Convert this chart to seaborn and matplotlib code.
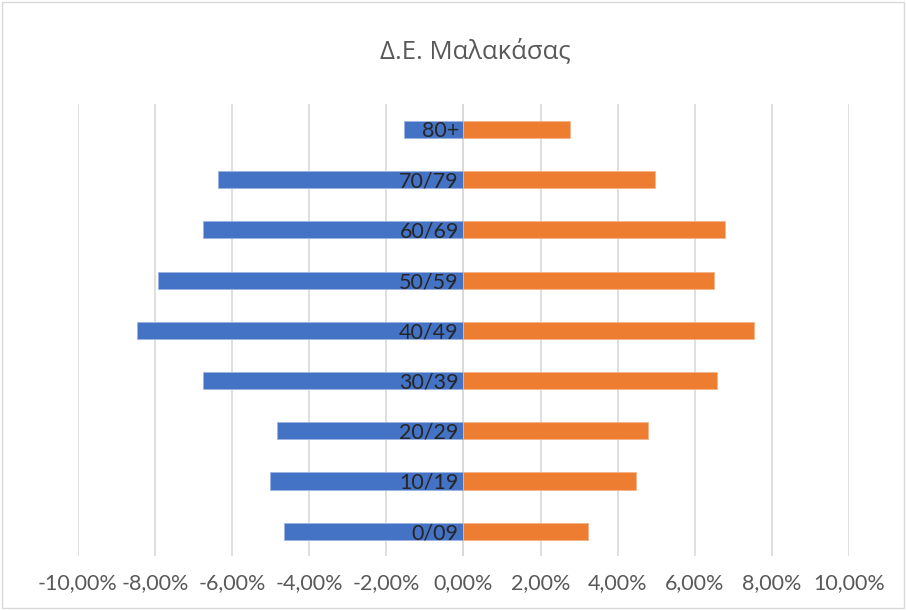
import pandas as pd
import matplotlib.pyplot as plt
import seaborn as sns
from matplotlib.ticker import FuncFormatter, MultipleLocator
from matplotlib.patches import Rectangle

# δεδομένα (ποσοστά, από πάνω προς τα κάτω)
ages = ['80+', '70/79', '60/69', '50/59', '40/49', '30/39', '20/29', '10/19', '0/09']
men = [-1.53, -6.37, -6.76, -7.93, -8.47, -6.76, -4.84, -5.03, -4.66]
women = [2.77, 4.97, 6.79, 6.50, 7.54, 6.58, 4.79, 4.48, 3.24]

sns.set_style('white')
plt.rcParams['font.family'] = ['Lato', 'Open Sans', 'DejaVu Sans']

df = pd.DataFrame({'age': ages, 'men': men, 'women': women})

fig = plt.figure(figsize=(9.06, 6.10), dpi=100)
ax = fig.add_axes([0.086, 0.088, 0.851, 0.741])

sns.barplot(data=df, x='men', y='age', order=ages, orient='h', color='#4472C4',
            width=0.34, saturation=1, ax=ax, edgecolor='#9DB4E0', linewidth=0.6)
sns.barplot(data=df, x='women', y='age', order=ages, orient='h', color='#ED7D31',
            width=0.34, saturation=1, ax=ax, edgecolor='#F5B48A', linewidth=0.6)

ax.set_xlim(-10, 10)
ax.set_ylim(8.5, -0.5)
ax.xaxis.set_major_locator(MultipleLocator(2))
ax.xaxis.set_major_formatter(FuncFormatter(lambda v, p: f'{v:.2f}%'.replace('.', ',')))
ax.grid(axis='x', color='#D9D9D9', linewidth=1.2)
ax.set_axisbelow(True)
ax.axvline(0, color='#D9D9D9', linewidth=1.2, zorder=0.5)
for s in ax.spines.values():
    s.set_visible(False)
ax.set_xlabel('')
ax.set_ylabel('')
ax.set_yticks([])
ax.tick_params(axis='x', length=0, pad=12, labelsize=15.5, labelcolor='#595959')

# ετικέτες ηλικιών δίπλα στον άξονα
for i, a in enumerate(ages):
    ax.text(-0.12, i, a, ha='right', va='center_baseline', fontsize=15.5, color='#262626')

fig.text(0.525, 0.915, 'Δ.Ε. Μαλακάσας', ha='center', va='center', fontsize=18.5,
         color='#595959', family=['Open Sans', 'DejaVu Sans'])
fig.patches.append(Rectangle((0.002, 0.003), 0.996, 0.994, transform=fig.transFigure,
                             fill=False, edgecolor='#D9D9D9', linewidth=1))

plt.savefig('out.png', dpi=100)
plt.close()
